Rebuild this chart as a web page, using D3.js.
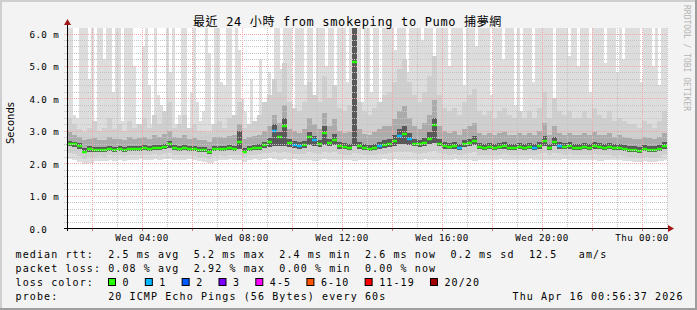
<!DOCTYPE html>
<html><head><meta charset="utf-8">
<script src="https://cdn.jsdelivr.net/npm/d3@7/dist/d3.min.js"></script>
<style>html,body{margin:0;padding:0;background:#fff;}svg{display:block;}text{white-space:pre;}</style>
</head><body><svg id="c" width="697" height="310"></svg>
<script>
// ---------------- DATA ----------------
const titleText = "最近 24 小時 from smokeping to Pumo 捕夢網";
const yTickValues = [0, 1, 2, 3, 4, 5, 6];
const yTickLabels = ["0.0", "1.0 m", "2.0 m", "3.0 m", "4.0 m", "5.0 m", "6.0 m"];
// median rtt (ms) per 12-minute step, Wed 01:00 -> Thu 01:00
const medianRtt = [
2.60,2.58,2.52,2.36,2.43,2.42,2.40,2.41,2.44,2.42,
2.43,2.41,2.44,2.45,2.44,2.46,2.45,2.48,2.47,2.50,
2.58,2.47,2.45,2.46,2.44,2.43,2.41,2.40,2.33,2.44,
2.45,2.44,2.46,2.45,2.66,2.36,2.45,2.46,2.48,2.55,
2.66,3.00,2.80,3.15,2.62,2.55,2.52,2.56,2.80,2.70,
2.58,2.92,2.62,2.72,2.52,2.50,2.48,5.13,2.52,2.47,
2.45,2.46,2.52,2.55,2.58,2.68,2.84,2.90,2.75,2.60,
2.58,2.62,2.75,3.18,2.60,2.52,2.50,2.52,2.47,2.58,
2.62,2.68,2.50,2.48,2.50,2.47,2.49,2.52,2.48,2.47,
2.50,2.48,2.50,2.47,2.52,2.68,2.46,2.66,2.52,2.50,
2.52,2.48,2.47,2.50,2.47,2.52,2.49,2.47,2.50,2.46,
2.48,2.45,2.42,2.40,2.38,2.44,2.42,2.40,2.43,2.52];
// lost pings (of 20) per step
const lossCount = [
0,0,0,0,0,0,0,0,0,0, 0,0,0,0,0,0,0,0,0,0,
0,0,0,0,0,0,0,0,0,0, 0,0,0,0,0,0,0,0,0,0,
0,1,0,0,0,1,1,0,0,1, 0,0,0,0,0,0,0,0,0,0,
0,0,1,0,0,0,1,0,1,0, 0,0,0,0,0,0,0,0,1,0,
0,0,0,0,0,0,0,0,0,0, 0,0,0,1,0,0,0,0,1,0,
0,0,0,0,0,0,0,0,0,0, 0,0,0,0,0,0,0,0,0,0];
// smoke: ping distribution per 12-minute step
const pingMin = [
2.14,2.10,2.04,1.98,2.02,2.06,2.08,2.06,2.10,2.08,
2.10,2.08,2.11,2.09,2.12,2.10,2.09,2.12,2.10,2.13,
2.12,2.10,2.11,2.09,2.12,2.10,2.07,2.04,2.00,2.08,
2.10,2.09,2.12,2.11,2.10,2.05,2.11,2.12,2.11,2.14,
2.15,2.12,2.11,2.14,2.10,2.12,2.09,2.11,2.10,2.08,
2.11,2.12,2.10,2.11,2.09,2.11,2.10,2.08,2.11,2.10,
2.09,2.11,2.10,2.12,2.11,2.12,2.10,2.11,2.09,2.11,
2.10,2.12,2.11,2.10,2.09,2.11,2.10,2.12,2.09,2.10,
2.11,2.08,2.10,2.09,2.11,2.10,2.12,2.10,2.11,2.09,
2.11,2.10,2.12,2.09,2.11,2.10,2.09,2.11,2.10,2.12,
2.09,2.10,2.11,2.09,2.10,2.11,2.08,2.10,2.11,2.09,
2.10,2.08,2.06,2.04,2.03,2.06,2.05,2.03,2.06,2.10];
const pingP10 = [
2.32,2.28,2.22,2.12,2.18,2.20,2.22,2.20,2.24,2.22,
2.24,2.22,2.25,2.24,2.26,2.25,2.24,2.27,2.26,2.28,
2.30,2.26,2.25,2.25,2.24,2.23,2.20,2.18,2.14,2.22,
2.24,2.23,2.26,2.25,2.26,2.18,2.25,2.26,2.27,2.30,
2.32,2.34,2.32,2.35,2.30,2.28,2.27,2.29,2.33,2.31,
2.29,2.34,2.30,2.33,2.27,2.26,2.25,2.32,2.27,2.25,
2.24,2.25,2.27,2.29,2.30,2.33,2.35,2.36,2.33,2.30,
2.29,2.31,2.34,2.37,2.30,2.27,2.26,2.27,2.25,2.29,
2.31,2.33,2.26,2.25,2.26,2.24,2.25,2.27,2.25,2.24,
2.26,2.25,2.26,2.24,2.27,2.31,2.24,2.30,2.27,2.26,
2.27,2.25,2.24,2.26,2.24,2.27,2.25,2.24,2.26,2.23,
2.24,2.22,2.20,2.18,2.16,2.20,2.19,2.17,2.20,2.26];
const pingQ1 = [
2.52,2.50,2.45,2.30,2.36,2.36,2.34,2.35,2.38,2.36,
2.37,2.35,2.38,2.39,2.38,2.40,2.39,2.42,2.41,2.43,
2.48,2.41,2.39,2.40,2.38,2.37,2.35,2.34,2.28,2.38,
2.39,2.38,2.40,2.39,2.44,2.31,2.39,2.40,2.42,2.46,
2.50,2.54,2.52,2.54,2.50,2.47,2.45,2.48,2.57,2.54,
2.49,2.57,2.52,2.57,2.45,2.44,2.42,2.52,2.45,2.41,
2.39,2.40,2.45,2.48,2.50,2.54,2.58,2.60,2.57,2.52,
2.50,2.54,2.58,2.62,2.52,2.45,2.44,2.45,2.41,2.50,
2.52,2.56,2.44,2.42,2.44,2.41,2.43,2.45,2.42,2.41,
2.44,2.42,2.44,2.41,2.45,2.54,2.40,2.54,2.45,2.44,
2.45,2.42,2.41,2.44,2.41,2.45,2.43,2.41,2.44,2.40,
2.42,2.39,2.36,2.34,2.32,2.38,2.36,2.34,2.37,2.44];
const pingQ3 = [
2.68,2.66,2.61,2.48,2.52,2.51,2.49,2.50,2.53,2.51,
2.52,2.50,2.53,2.54,2.53,2.55,2.54,2.57,2.56,2.60,
2.68,2.56,2.54,2.55,2.53,2.52,2.50,2.49,2.44,2.53,
2.54,2.53,2.55,2.54,3.00,2.48,2.54,2.55,2.58,2.66,
2.78,3.20,2.95,3.40,2.76,2.68,2.64,2.68,2.96,2.84,
2.70,3.15,2.76,2.90,2.64,2.62,2.60,6.30,2.66,2.58,
2.56,2.58,2.66,2.70,2.74,2.86,3.05,3.15,2.94,2.74,
2.72,2.78,2.96,3.40,2.76,2.66,2.62,2.64,2.60,2.72,
2.76,2.84,2.62,2.60,2.62,2.59,2.61,2.64,2.60,2.59,
2.62,2.60,2.62,2.59,2.66,2.84,2.58,2.81,2.64,2.62,
2.64,2.60,2.59,2.62,2.59,2.64,2.61,2.59,2.62,2.58,
2.60,2.57,2.54,2.52,2.50,2.56,2.54,2.52,2.55,2.64];
const pingP90 = [
2.95,2.88,2.82,2.70,2.75,2.78,2.70,2.72,2.80,2.74,
2.76,2.72,2.80,2.76,2.78,2.82,2.76,2.86,2.80,2.90,
3.00,2.80,2.78,2.86,2.76,2.78,2.72,2.70,2.66,2.80,
2.82,2.78,2.84,2.86,3.20,2.76,2.80,2.84,2.88,3.00,
3.15,3.50,3.25,3.80,3.05,2.98,2.92,3.05,3.40,3.20,
3.05,3.55,3.15,3.35,2.98,2.92,2.95,6.30,3.05,2.90,
2.88,2.95,3.05,3.15,3.15,3.35,3.60,3.75,3.40,3.15,
3.05,3.25,3.50,3.95,3.15,2.98,2.92,2.98,2.88,3.05,
3.15,3.25,2.92,2.88,2.92,2.86,2.92,2.96,2.88,2.86,
2.92,2.86,2.92,2.86,2.98,3.25,2.86,3.15,2.92,2.88,
2.92,2.86,2.86,2.92,2.86,2.96,2.88,2.86,2.92,2.82,
2.86,2.82,2.78,2.76,2.74,2.82,2.78,2.74,2.80,2.92];
const pingP95 = [
3.40,3.20,3.05,2.95,3.10,3.30,3.00,3.10,3.40,3.05,
3.20,3.00,3.30,3.10,3.20,3.40,3.10,3.50,3.20,3.60,
3.90,3.10,3.20,3.50,3.10,3.20,3.00,3.00,2.95,3.20,
3.30,3.10,3.40,3.50,3.90,3.10,3.20,3.30,3.50,3.90,
4.10,4.60,4.20,5.10,3.90,3.70,3.60,3.90,4.50,4.10,
3.90,4.70,4.00,4.40,3.70,3.60,3.80,6.30,3.90,3.60,
3.50,3.70,3.90,4.10,4.20,4.50,4.90,5.20,4.50,4.10,
3.90,4.20,4.70,5.30,4.10,3.70,3.60,3.70,3.50,3.90,
4.10,4.30,3.60,3.50,3.60,3.40,3.60,3.70,3.50,3.40,
3.60,3.40,3.60,3.40,3.70,4.20,3.40,4.00,3.60,3.50,
3.60,3.40,3.40,3.60,3.40,3.70,3.50,3.40,3.60,3.30,
3.40,3.30,3.20,3.20,3.10,3.30,3.20,3.10,3.30,3.60];
// max ping per 7.2-minute slice (finer detail of the light smoke)
const pingMax = [
6.3,6.3,3.5,3.4,6.3,6.3,6.3,4.6,6.3,3.1, 6.3,6.3,5.2,6.3,6.3,4.2,6.3,6.3,3.3,6.3,
6.3,6.3,5.0,3.2,3.0,5.6,6.3,4.4,3.2,6.3, 4.1,3.8,3.3,6.3,4.8,6.3,3.2,3.5,6.3,6.3,
3.1,4.2,6.3,3.9,3.3,3.6,6.3,5.4,3.2,6.3, 6.3,4.5,4.4,6.3,6.3,3.2,6.3,5.5,4.0,3.6,
3.0,4.6,3.3,3.0,5.2,3.4,3.1,4.8,3.5,6.3, 6.3,4.9,6.3,6.3,6.3,3.6,6.3,6.3,6.3,4.4,
6.3,6.3,3.8,6.3,6.3,6.3,5.0,6.3,6.3,3.9, 6.3,6.3,6.3,4.5,6.3,6.3,6.3,6.3,3.9,6.3,
6.3,4.2,6.3,6.3,3.7,6.3,6.3,6.3,6.3,5.5, 6.3,6.3,6.3,4.8,6.3,6.3,6.3,6.3,5.8,6.3,
6.3,6.3,4.6,6.3,6.3,6.3,6.3,5.0,6.3,6.3, 6.3,6.3,4.4,6.3,6.3,6.3,5.6,6.3,6.3,6.3,
6.3,4.1,6.3,6.3,6.3,5.2,6.3,6.3,6.3,3.8, 6.3,3.6,6.3,6.3,6.3,4.5,6.3,6.3,6.3,6.3,
6.3,6.3,4.0,6.3,6.3,6.3,6.3,5.3,6.3,6.3, 5.0,6.3,6.3,6.3,4.2,6.3,6.3,6.3,6.3,5.1,
6.3,6.3,6.3,4.8,6.3,5.2,6.3,6.3,6.3,6.3, 6.3,4.5,6.3,6.3,6.3,5.0,6.3,4.4,6.3,6.3];
// legend
const lossLabels = ["0", "1", "2", "3", "4-5", "6-10", "11-19", "20/20"];
const lossColors = ["#26ff00", "#00b8ff", "#0059ff", "#7e00ff", "#ff00ff", "#ff5500", "#ff0000", "#a10000"];
const legendLines = [
  "median rtt:  2.5 ms avg  5.2 ms max  2.4 ms min  2.6 ms now  0.2 ms sd  12.5   am/s",
  "packet loss: 0.08 % avg  2.92 % max  0.00 % min  0.00 % now"
];
const lossTitle = "loss color:";
const probeText = "probe:       20 ICMP Echo Pings (56 Bytes) every 60s";
const dateText = "Thu Apr 16 00:56:37 2026";
const watermark = "RRDTOOL / TOBI OETIKER";

// ---------------- DRAW ----------------
const svg = d3.select("#c");
const W = 697, H = 310;
const L = 67, R = 667, T = 28, B = 228;
const mono = "'DejaVu Sans Mono', monospace";

svg.append("rect").attr("width", W).attr("height", H).attr("fill", "#f3f3f3");
svg.append("rect").attr("x", 0).attr("y", 0).attr("width", W).attr("height", 2).attr("fill", "#cfcfcf");
svg.append("rect").attr("x", 0).attr("y", 0).attr("width", 2).attr("height", H).attr("fill", "#cfcfcf");
svg.append("rect").attr("x", 0).attr("y", H - 2).attr("width", W).attr("height", 2).attr("fill", "#9e9e9e");
svg.append("rect").attr("x", W - 2).attr("y", 0).attr("width", 2).attr("height", H).attr("fill", "#9e9e9e");
svg.append("rect").attr("x", L).attr("y", T).attr("width", R - L).attr("height", B - T).attr("fill", "#ffffff");

const t0 = Date.UTC(2026, 3, 15, 1, 0, 0), t1 = Date.UTC(2026, 3, 16, 1, 0, 0);
const x = d3.scaleUtc().domain([t0, t1]).range([L, R]);
const y = d3.scaleLinear().domain([0, 6.17]).range([B, T]);

const step = (t1 - t0) / medianRtt.length;
const fineStep = (t1 - t0) / pingMax.length;

svg.append("clipPath").attr("id", "plot").append("rect")
  .attr("x", L).attr("y", T).attr("width", R - L).attr("height", B - T);
const g = svg.append("g").attr("clip-path", "url(#plot)");

// light smoke (fine resolution)
g.append("g").selectAll("rect").data(pingMax).join("rect")
  .attr("x", (d, j) => x(t0 + j * fineStep))
  .attr("width", (d, j) => x(t0 + (j + 1) * fineStep) - x(t0 + j * fineStep))
  .attr("y", d => y(d))
  .attr("height", (d, j) => {
    const i = Math.floor((j * fineStep) / step);
    return y(pingMin[i]) - y(d);
  })
  .attr("fill", "#dddddd")
  .attr("shape-rendering", "crispEdges");

function band(lo, hi, color) {
  g.append("g").selectAll("rect").data(medianRtt).join("rect")
    .attr("x", (d, i) => x(t0 + i * step))
    .attr("width", (d, i) => x(t0 + (i + 1) * step) - x(t0 + i * step))
    .attr("y", (d, i) => y(hi[i]))
    .attr("height", (d, i) => Math.max(0, y(lo[i]) - y(hi[i])))
    .attr("fill", color)
    .attr("shape-rendering", "crispEdges");
}
band(pingMin, pingMin.map((v, i) => Math.max(pingP10[i], v)), "#dddddd");
band(pingP10, pingP95, "#cfcfcf");
band(pingQ1, pingP90, "#ababab");
band(pingQ1, pingQ3, "#595959");

// grid
const grid = svg.append("g");
const minorY = d3.range(1, 31).map(k => k * 0.2).filter(v => Math.abs(v - Math.round(v)) > 1e-6);
grid.selectAll(".hmin").data(minorY).join("line")
  .attr("x1", L - 3).attr("x2", R).attr("y1", d => Math.round(y(d)) + 0.5).attr("y2", d => Math.round(y(d)) + 0.5)
  .attr("stroke", "#c4c4c4").attr("stroke-dasharray", "1,1");
const hours = d3.utcHour.range(t0, t1 + 1);
grid.selectAll(".vmin").data(hours.filter(h => h.getUTCHours() % 2 === 1)).join("line")
  .attr("x1", d => Math.round(x(d)) + 0.5).attr("x2", d => Math.round(x(d)) + 0.5).attr("y1", T).attr("y2", B)
  .attr("stroke", "#c4c4c4").attr("stroke-dasharray", "1,1");
grid.selectAll(".hmaj").data(yTickValues.slice(1)).join("line")
  .attr("x1", L - 3).attr("x2", R).attr("y1", d => Math.round(y(d)) + 0.5).attr("y2", d => Math.round(y(d)) + 0.5)
  .attr("stroke", "#f4a4a4").attr("stroke-dasharray", "1,1");
const majorHours = hours.filter(h => h.getUTCHours() % 2 === 0);
grid.selectAll(".vmaj").data(majorHours).join("line")
  .attr("x1", d => Math.round(x(d)) + 0.5).attr("x2", d => Math.round(x(d)) + 0.5).attr("y1", T).attr("y2", B)
  .attr("stroke", "#f4a4a4").attr("stroke-dasharray", "1,1");
grid.selectAll(".vtick").data(majorHours).join("line")
  .attr("x1", d => Math.round(x(d)) + 0.5).attr("x2", d => Math.round(x(d)) + 0.5).attr("y1", B).attr("y2", B + 3)
  .attr("stroke", "#e87070");

// median line coloured by loss (one flat segment per step)
const lossBucket = c => c === 0 ? 0 : c === 1 ? 1 : c === 2 ? 2 : c === 3 ? 3 : c <= 5 ? 4 : c <= 10 ? 5 : c <= 19 ? 6 : 7;
lossColors.forEach((col, k) => {
  let d = "";
  medianRtt.forEach((v, i) => {
    if (lossBucket(lossCount[i]) !== k) return;
    const yy = Math.round(y(v)) + 0.0;
    d += `M${x(t0 + i * step)},${yy}H${x(t0 + (i + 1) * step)}`;
  });
  if (d) g.append("path").attr("d", d).attr("fill", "none").attr("stroke", col).attr("stroke-width", 2.4);
});

// axes
svg.append("line").attr("x1", L - 3).attr("x2", R + 3).attr("y1", B + 0.5).attr("y2", B + 0.5).attr("stroke", "#000");
svg.append("line").attr("x1", L + 0.5).attr("x2", L + 0.5).attr("y1", B + 3).attr("y2", T - 4).attr("stroke", "#000");
svg.append("path").attr("d", `M${L + 0.5},${T - 9} L${L - 3},${T - 3} L${L + 4},${T - 3} Z`).attr("fill", "#a01818");
svg.append("path").attr("d", `M${R + 7},${B + 0.5} L${R + 1},${B - 3} L${R + 1},${B + 4} Z`).attr("fill", "#a01818");

// axis labels
const fmt = d3.utcFormat("%a %H:%M");
svg.append("g").selectAll("text").data(d3.utcHour.every(4).range(t0, t1)).join("text")
  .attr("x", d => x(d)).attr("y", 241).attr("text-anchor", "middle")
  .attr("font-family", mono).attr("font-size", 9.2).attr("letter-spacing", 0.4).attr("fill", "#000")
  .text(d => fmt(d));
svg.append("g").selectAll("text").data(yTickValues).join("text")
  .attr("x", 29.5).attr("y", d => y(d) + 4.5)
  .attr("font-family", mono).attr("font-size", 9.2).attr("letter-spacing", 0.4).attr("fill", "#000")
  .text((d, i) => yTickLabels[i]);
svg.append("text").attr("transform", `translate(13.5,${(T + B) / 2 - 5}) rotate(-90)`)
  .attr("text-anchor", "middle").attr("font-family", "'DejaVu Sans', sans-serif").attr("font-size", 10)
  .attr("fill", "#000").text("Seconds");

// title
svg.append("text").attr("x", 347.5).attr("y", 26).attr("text-anchor", "middle")
  .attr("font-family", "'DejaVu Sans Mono', 'Noto Sans CJK TC', monospace").attr("font-size", 12)
  .attr("letter-spacing", 0.65).attr("fill", "#000").text(titleText);

// watermark
svg.append("text").attr("transform", "translate(684,5) rotate(90)")
  .attr("font-family", mono).attr("font-size", 8).attr("fill", "#b4b4b4").text(watermark);

// legend
const lg = { fontFamily: mono, size: 10, ls: 1.11 };
const cw = 7.13;
legendLines.forEach((s, k) => {
  svg.append("text").attr("x", 15.5).attr("y", 258 + 14 * k)
    .attr("font-family", lg.fontFamily).attr("font-size", lg.size).attr("letter-spacing", lg.ls).text(s);
});
svg.append("text").attr("x", 15.5).attr("y", 286)
  .attr("font-family", lg.fontFamily).attr("font-size", lg.size).attr("letter-spacing", lg.ls).text(lossTitle);
let bx = 108.5;
lossLabels.forEach((lab, k) => {
  svg.append("rect").attr("x", bx).attr("y", 278.5).attr("width", 7).attr("height", 7)
    .attr("fill", lossColors[k]).attr("stroke", "#000").attr("stroke-width", 1);
  const tx = bx + 14.8;
  svg.append("text").attr("x", tx - 0.8).attr("y", 286)
    .attr("font-family", lg.fontFamily).attr("font-size", lg.size).attr("letter-spacing", lg.ls).text(lab);
  bx = tx + lab.length * cw + 14.9;
});
svg.append("text").attr("x", 15.5).attr("y", 300)
  .attr("font-family", lg.fontFamily).attr("font-size", lg.size).attr("letter-spacing", lg.ls).text(probeText);
svg.append("text").attr("x", 512.5).attr("y", 300)
  .attr("font-family", lg.fontFamily).attr("font-size", lg.size).attr("letter-spacing", lg.ls).text(dateText);
</script></body></html>
